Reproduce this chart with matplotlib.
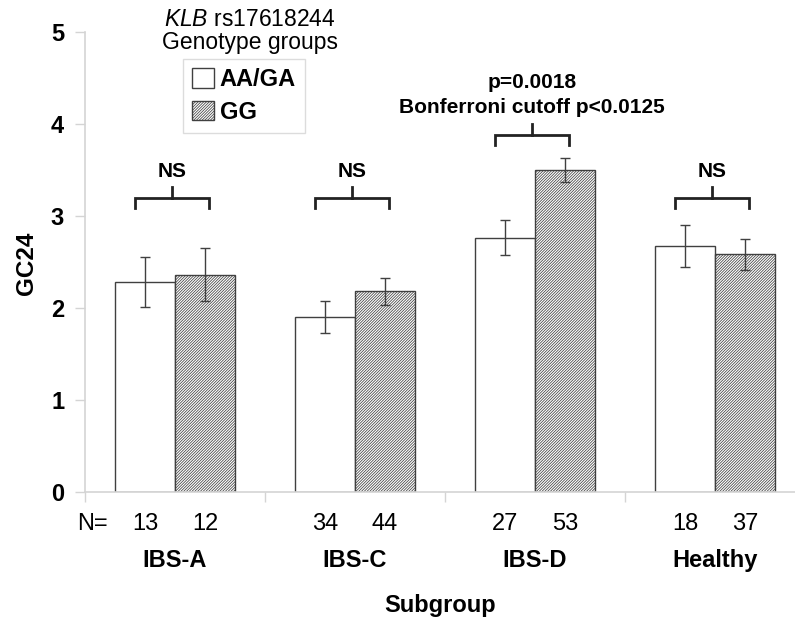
import matplotlib
matplotlib.use("Agg")
import matplotlib.pyplot as plt
import numpy as np
from matplotlib.patches import Patch

plt.rcParams["font.family"] = ["Liberation Sans", "DejaVu Sans"]
plt.rcParams["mathtext.fontset"] = "custom"
plt.rcParams["mathtext.it"] = "Liberation Sans:italic"
plt.rcParams["mathtext.rm"] = "Liberation Sans"
plt.rcParams["hatch.color"] = "#8c8c8c"
plt.rcParams["hatch.linewidth"] = 0.55

# data
subgroups = ["IBS-A", "IBS-C", "IBS-D", "Healthy"]
genotypes = ["AA/GA", "GG"]
mean_aa = [2.28, 1.90, 2.76, 2.67]
err_aa = [0.27, 0.17, 0.19, 0.23]
mean_gg = [2.36, 2.18, 3.50, 2.58]
err_gg = [0.29, 0.15, 0.13, 0.165]
n_aa = [13, 34, 27, 18]
n_gg = [12, 44, 53, 37]
tests = ["NS", "NS", "p=0.0018\nBonferroni cutoff p<0.0125", "NS"]
bracket_y = [3.19, 3.19, 3.88, 3.19]

EDGE = "#404040"
AXIS = "#d4d4d4"
FS = 17      # axis / label text
FS_SIG = 15  # significance notes
HATCH = "////////////"

fig = plt.figure(figsize=(7.95, 6.23), dpi=100)
ax = fig.add_axes([85 / 795, 131 / 623, 720 / 795, 460.3 / 623])

x = np.arange(len(subgroups)) + 0.5
w = 1 / 3
ax.bar(x - w / 2, mean_aa, w, color="white", edgecolor=EDGE, linewidth=1.0, zorder=2)
ax.bar(x + w / 2, mean_gg, w, color="white", edgecolor=EDGE, linewidth=1.0,
       hatch=HATCH, zorder=2)
ax.errorbar(x - w / 2, mean_aa, yerr=err_aa, fmt="none", ecolor=EDGE,
            elinewidth=1.0, capsize=3.5, capthick=1.0, zorder=3)
ax.errorbar(x + w / 2, mean_gg, yerr=err_gg, fmt="none", ecolor=EDGE,
            elinewidth=1.0, capsize=3.5, capthick=1.0, zorder=3)

# significance brackets
for xi, yb, label in zip(x, bracket_y, tests):
    x0, x1 = xi - 0.22, xi + 0.19
    xm = (x0 + x1) / 2
    ax.plot([x0, x0, x1, x1], [yb - 0.11, yb, yb, yb - 0.11], color="#222222",
            lw=2, solid_joinstyle="miter", zorder=4)
    ax.plot([xm, xm], [yb, yb + 0.12], color="#222222", lw=2, zorder=4)
    ax.text(xm, yb + 0.19, label, ha="center", va="bottom", fontsize=FS_SIG,
            fontweight="bold", linespacing=1.45)

ax.set_xlim(0, 4)
ax.set_ylim(0, 5)
ax.set_yticks(range(6))
ax.set_yticklabels([str(v) for v in range(6)], fontsize=FS, fontweight="bold")
ax.set_xticks(range(5))
ax.set_xticklabels([])
ax.tick_params(axis="both", color=AXIS, length=7, width=1)
ax.tick_params(axis="y", pad=8)
for s in ["top", "right"]:
    ax.spines[s].set_visible(False)
for s in ["left", "bottom"]:
    ax.spines[s].set_color(AXIS)
    ax.spines[s].set_linewidth(1.2)

# N row and subgroup labels
ax.text(0.04, -0.35, "N=", ha="center", va="center", fontsize=FS, clip_on=False)
for xi, na, ng, name in zip(x, n_aa, n_gg, subgroups):
    ax.text(xi - w / 2, -0.35, str(na), ha="center", va="center", fontsize=FS)
    ax.text(xi + w / 2, -0.35, str(ng), ha="center", va="center", fontsize=FS)
    ax.text(xi, -0.74, name, ha="center", va="center", fontsize=FS, fontweight="bold")
ax.text(1.97, -1.23, "Subgroup", ha="center", va="center", fontsize=FS, fontweight="bold")

fig.text(26 / 795, 1 - 263 / 623, "GC24", rotation=90, ha="center", va="center",
         fontsize=17.5, fontweight="bold")

# legend
fig.text(250 / 795, 1 - 20 / 623, r"$\mathit{KLB}$ rs17618244", ha="center",
         va="center", fontsize=16.5)
fig.text(250 / 795, 1 - 43 / 623, "Genotype groups", ha="center", va="center",
         fontsize=16.5)
handles = [Patch(facecolor="white", edgecolor=EDGE, label=genotypes[0]),
           Patch(facecolor="white", edgecolor=EDGE, hatch=HATCH, label=genotypes[1])]
leg = ax.legend(handles=handles, loc="upper left", bbox_to_anchor=(0.136, 0.941),
                borderaxespad=0, fancybox=False, frameon=True, handlelength=0.9,
                handleheight=0.9, handletextpad=0.25, borderpad=0.4, labelspacing=0.4,
                prop={"size": FS, "weight": "bold"})
leg.get_frame().set_edgecolor(AXIS)
leg.get_frame().set_linewidth(1.0)

fig.savefig("out.png", dpi=100)
